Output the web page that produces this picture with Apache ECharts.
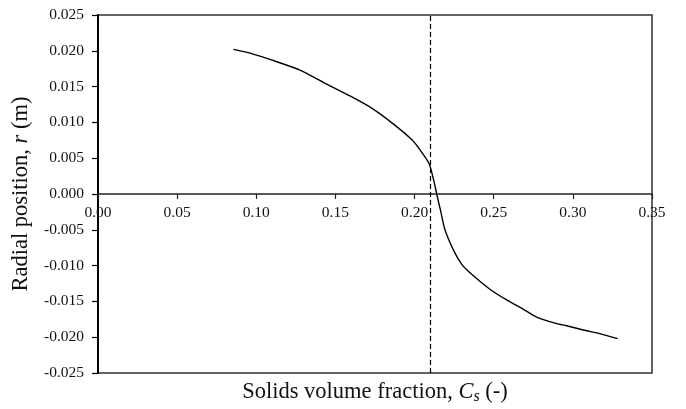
<!DOCTYPE html>
<html>
<head>
<meta charset="utf-8">
<style>
  html, body { margin: 0; padding: 0; background: #fff; }
  #chart { width: 686px; height: 409px; }
</style>
<script src="https://cdn.jsdelivr.net/npm/echarts@6/dist/echarts.min.js"></script>
</head>
<body>
<div id="chart"></div>
<script>
// Solids volume fraction profile across the radius
const solidsFraction = [
  0.0855, 0.0956, 0.1139, 0.1276, 0.1423, 0.1592, 0.1729, 0.1865, 0.1982,
  0.2040, 0.2093, 0.2120, 0.2140, 0.2165, 0.2192, 0.2245, 0.2297, 0.2350, 0.2476,
  0.2582, 0.2687, 0.2771, 0.2898, 0.2961, 0.3066, 0.3171, 0.3283
];
const radialPosition = [
  0.0202, 0.0197, 0.0184, 0.0173, 0.0156, 0.0137, 0.0120, 0.0098, 0.0076,
  0.0060, 0.0042, 0.0020, 0.0000, -0.0024, -0.0050, -0.0078, -0.0098, -0.0110, -0.0133,
  -0.0148, -0.0161, -0.0172, -0.0181, -0.0184, -0.0190, -0.0195, -0.0202
];
// Mean solids fraction marker
const meanFraction = 0.209;

const xTicks = { min: 0, max: 0.35, step: 0.05 };
const yTicks = { min: -0.025, max: 0.025, step: 0.005 };

const serif = '"Liberation Serif", "DejaVu Serif", serif';
const ink = '#111';

const chart = echarts.init(document.getElementById('chart'));
chart.setOption({
  animation: false,
  backgroundColor: '#fff',
  textStyle: { fontFamily: serif },
  grid: {
    left: 98, right: 34, top: 15, bottom: 36,
    containLabel: false,
    outerBoundsMode: 'none',
    show: true, borderColor: '#333', borderWidth: 1.5, backgroundColor: 'transparent'
  },
  xAxis: {
    type: 'value',
    min: xTicks.min, max: xTicks.max, interval: xTicks.step,
    axisLine: { onZero: false, lineStyle: { color: '#222', width: 1.5 } },
    axisTick: { show: true, length: 5, lineStyle: { color: '#222', width: 1.2 } },
    axisLabel: {
      color: ink, fontSize: 15.5, fontFamily: serif, margin: 11,
      formatter: v => Math.abs(v) < 1e-9 ? '0.00' : v.toFixed(2)
    },
    splitLine: { show: false },
    name: '{a|Solids volume fraction, }{i|C}{s|s}{a| (-)}',
    nameLocation: 'middle',
    nameGap: 0,
    nameTextStyle: {
      rich: {
        a: { fontFamily: serif, fontSize: 22.5, color: ink, lineHeight: 24 },
        i: { fontFamily: serif, fontSize: 22.5, fontStyle: 'italic', color: ink, lineHeight: 24 },
        s: { fontFamily: serif, fontSize: 16, fontStyle: 'italic', color: ink, lineHeight: 24, padding: [10, 0, 0, 0] }
      }
    }
  },
  yAxis: {
    type: 'value',
    min: yTicks.min, max: yTicks.max, interval: yTicks.step,
    axisLine: { onZero: false, lineStyle: { color: '#000', width: 2 } },
    axisTick: { show: true, length: 6, lineStyle: { color: '#000', width: 1.2 } },
    axisLabel: {
      color: ink, fontSize: 15.5, fontFamily: serif, margin: 14,
      formatter: v => Math.abs(v) < 1e-9 ? '0.000' : v.toFixed(3)
    },
    splitLine: { show: false },
    name: '{a|Radial position, }{i|r}{a| (m)}',
    nameLocation: 'middle',
    nameGap: 64,
    nameRotate: 90,
    nameTextStyle: {
      rich: {
        a: { fontFamily: serif, fontSize: 22.5, color: ink },
        i: { fontFamily: serif, fontSize: 22.5, fontStyle: 'italic', color: ink }
      }
    }
  },
  series: [{
    type: 'line',
    data: solidsFraction.map((x, i) => [x, radialPosition[i]]),
    showSymbol: false,
    smooth: 0.2,
    lineStyle: { color: '#000', width: 1.4 },
    markLine: {
      silent: true,
      symbol: 'none',
      label: { show: false },
      lineStyle: { color: '#000', width: 1.2, type: [5, 3] },
      data: [{ xAxis: meanFraction }]
    }
  }]
});

// Lift the x axis onto r = 0 and keep its title below the plot frame
const bottomPx = chart.convertToPixel({ gridIndex: 0 }, [0, yTicks.min])[1];
const zeroPx = chart.convertToPixel({ gridIndex: 0 }, [0, 0])[1];
chart.setOption({
  xAxis: {
    offset: -(bottomPx - zeroPx),
    nameGap: (bottomPx - zeroPx) + 7
  }
});
</script>
</body>
</html>
